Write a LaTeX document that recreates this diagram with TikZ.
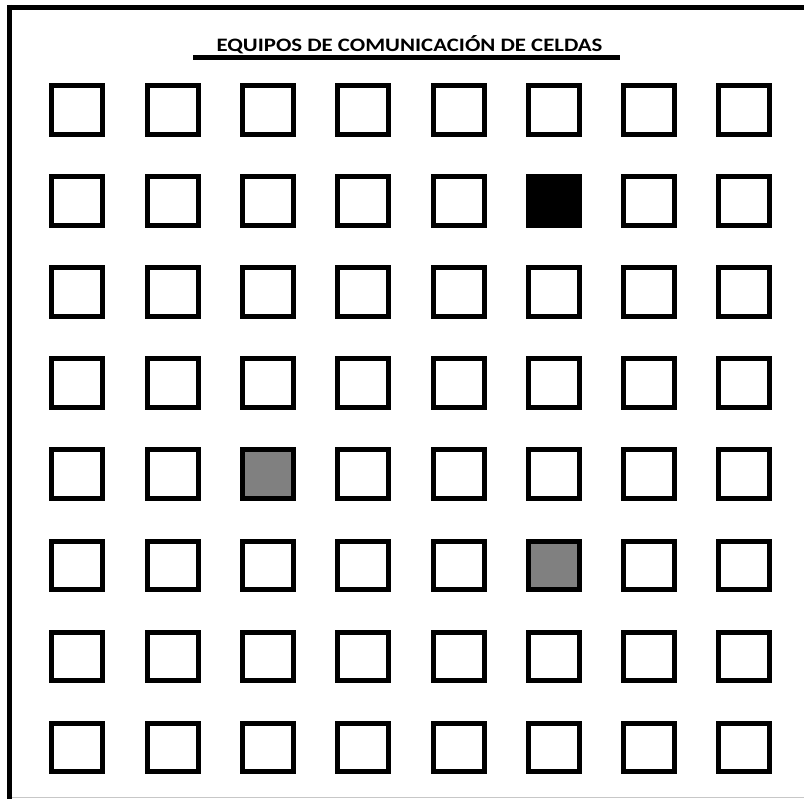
\documentclass[tikz,border=0pt]{standalone}
\usepackage{fontspec}
\setmainfont{Carlito}
\newfontfamily\titlefont[FakeStretch=1.2]{Carlito}
\begin{document}
\begin{tikzpicture}[x=1pt,y=-1pt,
  cell/.style={draw=black,line width=5pt,minimum width=51pt,minimum height=48.5pt,inner sep=0pt,fill=white},
  darkcell/.style={cell,fill=black},
  greycell/.style={cell,fill=gray},
  frameline/.style={line width=5pt}]
\useasboundingbox (0,0) rectangle (804,799);
\fill[white] (0,0) rectangle (804,799);
% frame
\coordinate (fTL) at (9.5,5);
\coordinate (fBL) at (9.5,799);
\coordinate (fTL2) at (7,7.5);
\coordinate (fTR) at (804,7.5);
\coordinate (bL) at (12,797.5);
\coordinate (bR) at (804,797.5);
\draw[frameline] (fTL) -- (fBL);
\draw[frameline] (fTL2) -- (fTR);
\draw[line width=1.2pt,color=black!22] (bL) -- (bR);
% title
\node[font=\titlefont\bfseries\fontsize{19}{21}\selectfont,anchor=base,inner sep=0pt] (title) at (409.5,52) {EQUIPOS DE COMUNICACIÓN DE CELDAS};
\coordinate (uL) at (193,57.5);
\coordinate (uR) at (620,57.5);
\draw[line width=4.5pt] (uL) -- (uR);
% grid
\foreach \r in {1,...,8}{
  \foreach \c in {1,...,8}{
    \pgfmathsetmacro{\cx}{77.3+95.3*(\c-1)}
    \pgfmathsetmacro{\cy}{110+91.06*(\r-1)}
    \def\st{cell}
    \ifnum\r=2 \ifnum\c=6 \def\st{darkcell}\fi\fi
    \ifnum\r=5 \ifnum\c=3 \def\st{greycell}\fi\fi
    \ifnum\r=6 \ifnum\c=6 \def\st{greycell}\fi\fi
    \node[\st] (cell-\r-\c) at (\cx,\cy) {};
  }
}
\end{tikzpicture}
\end{document}
